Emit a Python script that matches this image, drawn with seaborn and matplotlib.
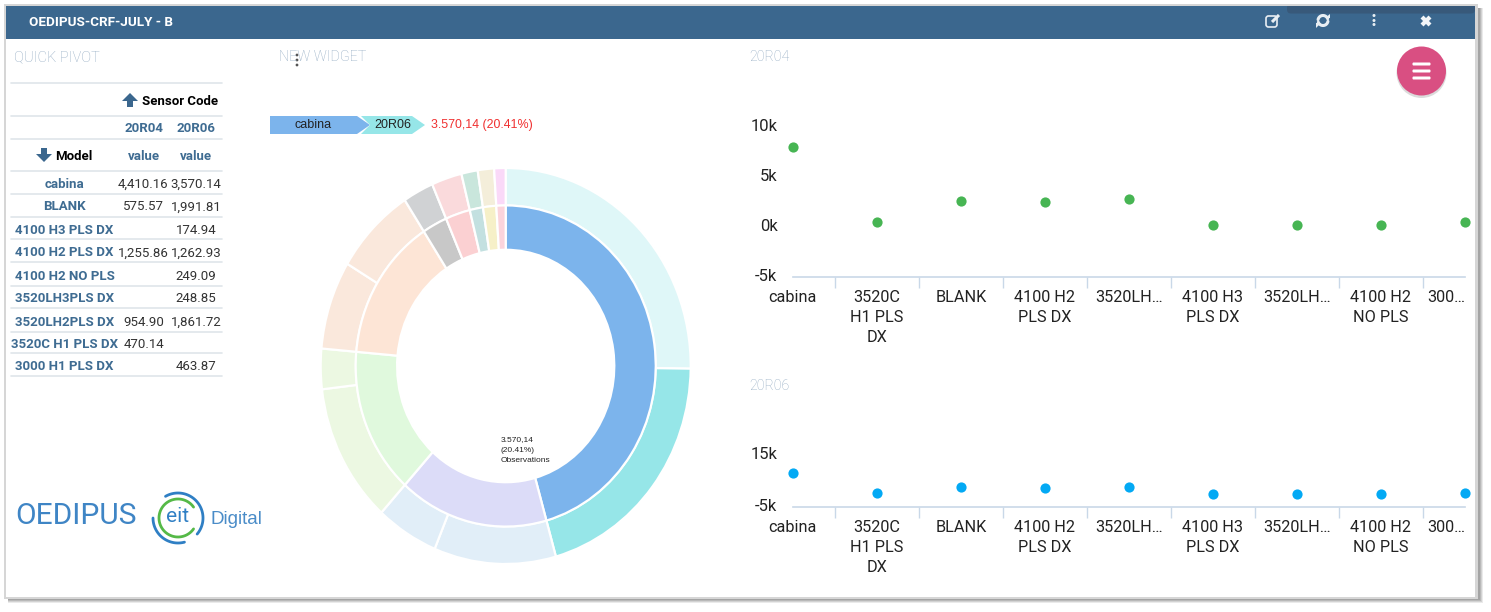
import numpy as np
import pandas as pd
import matplotlib
matplotlib.use('Agg')
import matplotlib.pyplot as plt
from matplotlib.patches import Rectangle, Polygon, Circle, FancyBboxPatch
from matplotlib.transforms import ScaledTranslation
import seaborn as sns

W, H = 1491, 612

# pivot table
pivot_models = ['cabina', 'BLANK', '4100 H3 PLS DX', '4100 H2 PLS DX', '4100 H2 NO PLS',
                '3520LH3PLS DX', '3520LH2PLS DX', '3520C H1 PLS DX', '3000 H1 PLS DX']
pivot_20r04 = ['4,410.16', '575.57', '', '1,255.86', '', '', '954.90', '470.14', '']
pivot_20r06 = ['3,570.14', '1,991.81', '174.94', '1,262.93', '249.09', '248.85', '1,861.72', '', '463.87']

# donut, sorted by model total
inner_values = [7980.30, 2816.62, 2567.38, 2518.79, 470.14, 463.87, 249.09, 248.85, 174.94]
inner_colors = ['#7cb4ec', '#dcdcf8', '#e0f9dd', '#fde5d6', '#c8c8c8', '#fbd0d2', '#c3e0e0', '#f6f0c8', '#fbd4dc']
outer_values = [4410.16, 3570.14, 1861.72, 954.90, 1991.81, 575.57, 1262.93, 1255.86,
                470.14, 463.87, 249.09, 248.85, 174.94]
outer_colors = ['#dff7f8', '#96e6e8', '#e1eef8', '#e1eef8', '#ecf8e2', '#ecf8e2', '#fae8dc', '#fae8dc',
                '#d0d2d4', '#fadadc', '#c9e6dc', '#f4eeda', '#fad9f8']

# scatter charts
chart_models = ['cabina', '3520C H1 PLS DX', 'BLANK', '4100 H2 PLS DX', '3520LH2PLS DX',
                '4100 H3 PLS DX', '3520LH3PLS DX', '4100 H2 NO PLS', '3000 H1 PLS DX']
chart_labels = ['cabina', '3520C\nH1 PLS\nDX', 'BLANK', '4100 H2\nPLS DX', '3520LH…',
                '4100 H3\nPLS DX', '3520LH…', '4100 H2\nNO PLS', '300…']
chart_values = [7980.30, 470.14, 2567.38, 2518.79, 2816.62, 174.94, 248.85, 249.09, 463.87]
top_ticks = [-5000, 0, 5000, 10000]
top_ticklabels = ['-5k', '0k', '5k', '10k']
bottom_ticks = [-5000, 15000]
bottom_ticklabels = ['-5k', '15k']

sns.set_theme(style='white')
plt.rcParams['font.family'] = ['Roboto', 'DejaVu Sans']

HEADER = '#3b678e'
BLUE_TXT = '#3f6c92'
TITLE = '#93abc2'
AXIS = '#c9d8e8'
ARIAL = 'Liberation Sans'

fig = plt.figure(figsize=(W / 100, H / 100), dpi=100, facecolor='white')


def px_axes(x0, y0, x1, y1, **kw):
    # box given in picture pixels, y going down
    return fig.add_axes([x0 / W, 1 - y1 / H, (x1 - x0) / W, (y1 - y0) / H], **kw)


def overlay(z):
    a = px_axes(0, 0, W, H, zorder=z)
    a.set_xlim(0, W)
    a.set_ylim(H, 0)
    a.axis('off')
    return a


frame = overlay(0)
bg = overlay(2)

# window frame and shadow
for off, a in [(6, .18), (5, .25), (4, .35), (3, .45)]:
    frame.add_patch(Rectangle((8, 8), 1469 + off, 589 + off, fc='#8c8c8c', ec='none', alpha=a))
frame.add_patch(Rectangle((4, 4), 1474, 595, fc='#d6d6d6', ec='none'))
frame.add_patch(Rectangle((6, 6), 1469, 591, fc='white', ec='none'))
frame.add_patch(Rectangle((6, 6), 1469, 33, fc=HEADER, ec='none'))
frame.add_patch(FancyBboxPatch((1287, 4), 188, 9.5, boxstyle='round,pad=0,rounding_size=4',
                               fc='#38597a', ec='none'))
frame.add_patch(Rectangle((1280, 4), 198, 2, fc='#d6d6d6', ec='none'))
bg.text(29, 22.5, 'OEDIPUS-CRF-JULY - B', color='white', fontsize=9.7, fontweight='bold', va='center')


def arc(cx, cy, r, a0, a1, ax=bg, **kw):
    t = np.radians(np.linspace(a0, a1, 60))
    ax.plot(cx + r * np.cos(t), cy - r * np.sin(t), **kw)


# header icons
bg.add_patch(FancyBboxPatch((1266, 16), 11, 11, boxstyle='round,pad=0,rounding_size=2.5',
                            fc='none', ec='#e8eef3', lw=1.2))
bg.plot([1272, 1279], [22, 15], color='#e8eef3', lw=2.2, solid_capstyle='butt')
arc(1323, 20.5, 5, 20, 170, color='#e8eef3', lw=2.2)
arc(1323, 20.5, 5, 200, 350, color='#e8eef3', lw=2.2)
bg.add_patch(Polygon([[1325, 18], [1330, 18], [1330, 13.5]], fc='#e8eef3', ec='none'))
bg.add_patch(Polygon([[1321, 23], [1316, 23], [1316, 27.5]], fc='#e8eef3', ec='none'))
for y in [15.5, 20.5, 24.5]:
    bg.add_patch(Circle((1374, y), 1.5, fc='#e8eef3', ec='none'))
bg.plot([1422, 1430], [17, 25], color='#f2f5f8', lw=3, solid_capstyle='butt')
bg.plot([1422, 1430], [25, 17], color='#f2f5f8', lw=3, solid_capstyle='butt')

# section titles
bg.text(14, 57, 'QUICK PIVOT', color=TITLE, fontsize=10.5, fontweight='light', va='center')
bg.text(279, 57, 'NEW WIDGET', color=TITLE, fontsize=10.4, fontweight='light', va='center')
bg.text(749, 57, '20R04', color=TITLE, fontsize=10.2, fontweight='light', va='center')
bg.text(749, 386, '20R06', color=TITLE, fontsize=10.2, fontweight='light', va='center')
for y in [55, 60, 65]:
    bg.add_patch(Circle((297, y), 1.4, fc='#555555', ec='none'))

# pivot table
row_lines = [83, 116, 139, 171, 194, 217, 239, 262, 286, 308, 332, 353, 376]
for y in row_lines:
    bg.plot([11, 222], [y, y], color='#dfe5ea', lw=1.2)
COL_MODEL, COL_A, COL_B = 64.5, 143.5, 196
bg.text(180, 101.5, 'Sensor Code', color='black', fontsize=9.5, fontweight='bold', ha='center', va='center')
bg.text(74, 156, 'Model', color='black', fontsize=9.5, fontweight='bold', ha='center', va='center')
bg.add_patch(Polygon([[130, 93], [138, 101], [133, 101], [133, 107], [127, 107], [127, 101], [122, 101]],
                     fc=HEADER, ec='none'))
bg.add_patch(Polygon([[44, 162], [52, 154], [47, 154], [47, 148], [41, 148], [41, 154], [36, 154]],
                     fc=HEADER, ec='none'))
for cx, code in [(COL_A, '20R04'), (COL_B, '20R06')]:
    bg.text(cx, 129, code, color=BLUE_TXT, fontsize=9.5, fontweight='bold', ha='center', va='center')
    bg.text(cx, 156.5, 'value', color=BLUE_TXT, fontsize=9.5, fontweight='bold', ha='center', va='center')
row_y = [184, 207, 230, 253, 276, 299, 322, 344, 366]
for y, m, a, b in zip(row_y, pivot_models, pivot_20r04, pivot_20r06):
    bg.text(COL_MODEL, y, m, color=BLUE_TXT, fontsize=9.5, fontweight='bold', ha='center', va='center')
    bg.text(COL_A, y, a, color='#333333', fontsize=9.5, ha='center', va='center')
    bg.text(COL_B, y, b, color='#333333', fontsize=9.5, ha='center', va='center')

# logos
bg.text(76, 516, 'OEDIPUS', color='#3f85c5', fontsize=21.5, ha='center', va='center')
arc(178, 518, 25, -40, 120, color='#2f7fc4', lw=2)
arc(178, 518, 25, 180, 285, color='#2f7fc4', lw=2)
arc(178, 518, 19, 35, 325, color='#55b947', lw=2)
bg.text(178, 517, 'eit', color='#2f7fc4', fontsize=15, ha='center', va='center')
bg.text(210, 519, 'Digital', family=ARIAL, color='#4a8cc8', fontsize=13.5, va='center')

# breadcrumb above the donut
bg.add_patch(Polygon([[270, 116], [357, 116], [370, 125], [357, 134], [270, 134]], fc=inner_colors[0], ec='none'))
bg.add_patch(Polygon([[361, 116], [412, 116], [425, 125], [412, 134], [361, 134], [370, 125]],
                     fc=outer_colors[1], ec='none'))
bg.text(313, 125.5, 'cabina', family=ARIAL, color='#222222', fontsize=9, ha='center', va='center')
bg.text(393, 125.5, '20R06', family=ARIAL, color='#222222', fontsize=9, ha='center', va='center')
bg.text(431, 125, '3.570,14 (20.41%)', family=ARIAL, color='#f03030', fontsize=8.9, va='center')

# donut, stretched a bit like the screenshot (rx 185, ry 198)
cx, cy, rx, ry = 505.7, 366, 185, 198
pie_ax = px_axes(cx - 1.25 * rx, cy - 1.25 * ry, cx + 1.25 * rx, cy + 1.25 * ry, zorder=1)
pie_ax.patch.set_alpha(0)
wp = dict(edgecolor='white', linewidth=1.6)
pie_ax.pie(outer_values, colors=outer_colors, radius=1.0, startangle=90, counterclock=False,
           wedgeprops=dict(width=0.19, **wp))
pie_ax.pie(inner_values, colors=inner_colors, radius=0.811, startangle=90, counterclock=False,
           wedgeprops=dict(width=0.224, **wp))
pie_ax.set_aspect('auto')
pie_ax.set_xlim(-1.25, 1.25)
pie_ax.set_ylim(-1.25, 1.25)
for y, t in zip([440, 450, 460], ['3.570,14', '(20.41%)', 'Observations']):
    bg.text(500.5, y, t, family=ARIAL, color='#222222', fontsize=6, va='center', zorder=5)


def scatter_panel(box, ylim, ticks, ticklabels, color):
    ax = px_axes(*box, zorder=3)
    ax.patch.set_alpha(0)
    df = pd.DataFrame({'model': chart_models, 'value': chart_values})
    sns.scatterplot(data=df, x='model', y='value', color=color, s=54, linewidth=0, clip_on=False, ax=ax)
    ax.set_xlim(0, len(chart_models) - 1)
    ax.set_ylim(*ylim)
    ax.set_xticks(range(len(chart_labels)), labels=chart_labels)
    ax.set_xticks(np.arange(len(chart_labels) - 1) + 0.5, minor=True)
    ax.set_yticks(ticks, labels=ticklabels)
    ax.set_xlabel('')
    ax.set_ylabel('')
    ax.tick_params(axis='x', which='major', length=0, pad=9.5, labelsize=11.7, labelcolor='#222222')
    ax.tick_params(axis='x', which='minor', length=8, width=1, color=AXIS, bottom=True)
    ax.tick_params(axis='y', length=0, pad=11, labelsize=12, labelcolor='#222222')
    for lab in ax.get_xticklabels():
        lab.set_linespacing(1.38)
    ax.get_xticklabels()[-1].set_ha('right')
    # y labels sit a little above their value in the original
    up = ScaledTranslation(0, 2 / 100, fig.dpi_scale_trans)
    for lab in ax.get_yticklabels():
        lab.set_transform(lab.get_transform() + up)
    sns.despine(ax=ax, left=True)
    ax.spines['bottom'].set_color(AXIS)
    ax.spines['bottom'].set_linewidth(1.2)
    return ax


scatter_panel((792.7, 126.8, 1465, 277.3), (-5000, 10000), top_ticks, top_ticklabels, '#47b553')
scatter_panel((792.7, 454.9, 1465, 507.3), (-5000, 15000), bottom_ticks, bottom_ticklabels, '#03a9f4')

# round menu button
fab = overlay(4)
fab.add_patch(Circle((1421.5, 73), 25, fc='#9a9a9a', ec='none', alpha=.35))
fab.add_patch(Circle((1421.5, 71), 24.5, fc='#d94f82', ec='none'))
for y in [64, 71, 78]:
    fab.add_patch(FancyBboxPatch((1412.5, y - 1.5), 18, 3, boxstyle='round,pad=0,rounding_size=1',
                                 fc='white', ec='none'))

fig.savefig('out.png', dpi=100)
